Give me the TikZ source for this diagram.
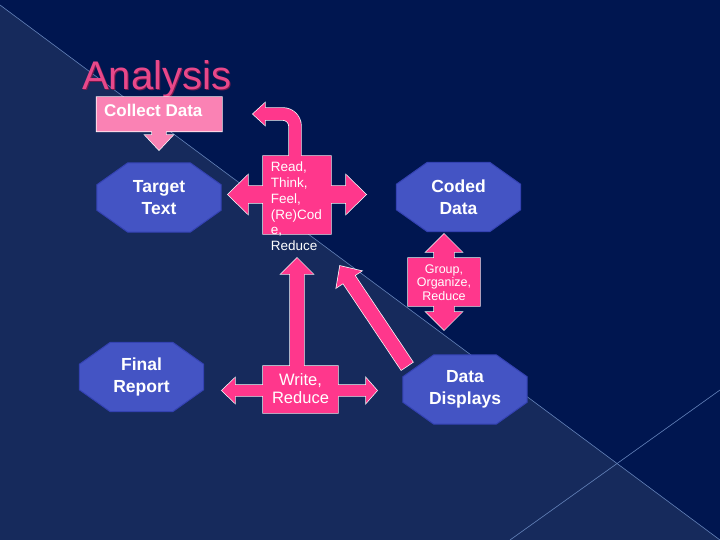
\documentclass[tikz,border=0pt]{standalone}
\usepackage{fontspec}
\setmainfont{Liberation Sans}

\definecolor{bgdark}{RGB}{0,22,80}
\definecolor{bglight}{RGB}{22,42,92}
\definecolor{rulecol}{RGB}{100,130,185}
\definecolor{hotpink}{RGB}{255,55,140}
\definecolor{softpink}{RGB}{250,130,180}
\definecolor{titlepink}{RGB}{232,72,138}
\definecolor{titleshade}{RGB}{120,25,75}
\definecolor{octblue}{RGB}{68,84,196}
\definecolor{octedge}{RGB}{52,66,178}

\pgfdeclarelayer{bg}
\pgfdeclarelayer{shapes}
\pgfsetlayers{bg,shapes,main}

\begin{document}
\begin{tikzpicture}[
    x=1pt, y=-1pt,
    octa/.style={rectangle, minimum width=124pt, minimum height=69pt, inner sep=0pt, text=white, align=center, font=\fontsize{17.5}{22}\selectfont\bfseries},
    octfill/.style={fill=octblue, draw=octedge, line width=1pt},
    callout/.style={fill=hotpink, preaction={draw=white, line width=1.4pt}},
    softcallout/.style={fill=softpink, preaction={draw=white, line width=1.4pt}},
    boxtext/.style={inner sep=0pt, text=white}
]
\useasboundingbox (0,0) rectangle (720,540);

% background
\begin{pgfonlayer}{bg}
\fill[bgdark] (0,0) rectangle (720,540);
\fill[bglight] (0,5) -- (720,540) -- (0,540) -- cycle;
\draw[rulecol, line width=0.6pt] (0,5) -- (720,540);
\draw[rulecol, line width=0.6pt] (720,390) -- (510,540);
\end{pgfonlayer}

% title
\node[anchor=base west, inner sep=0pt, text=titleshade, font=\fontsize{40}{48}\selectfont] (titleshadow) at (83,90.5) {Analysis};
\node[anchor=base west, inner sep=0pt, text=titlepink, font=\fontsize{40}{48}\selectfont] (title) at (82,89.5) {Analysis};

% collect data callout
\path[softcallout] (96.5,97) rectangle (222,131.5)
    (152,131.5) -- (152,135) -- (145,135) -- (159,150) -- (173,135) -- (166,135) -- (166,131.5) -- cycle;
\node[boxtext, anchor=base west, font=\fontsize{17}{20}\selectfont\bfseries] (collect) at (104,116.7) {Collect Data};

% read callout
\path[callout] (263,156) rectangle (331,234)
    (263,186) -- (248,186) -- (248,175) -- (228,194.5) -- (248,214) -- (248,203) -- (263,203) -- cycle
    (331,186) -- (346,186) -- (346,175) -- (366,194.5) -- (346,214) -- (346,203) -- (331,203) -- cycle
    (289,156) -- (289,126) .. controls (289,122.7) and (286.3,120) .. (283,120) -- (265,120) -- (265,125) -- (253,114)
    -- (265,103) -- (265,108) -- (283,108) .. controls (292.9,108) and (301,116.1) .. (301,126) -- (301,156) -- cycle;
\node[boxtext, anchor=north west, align=left, font=\fontsize{13.5}{15.7}\selectfont] (read) at (270.7,162) {Read,\\Think,\\Feel,\\(Re)Cod\\e,\\Reduce};

% group callout
\path[callout] (408,258) rectangle (480,306)
    (434,258) -- (434,252) -- (426,252) -- (444,234) -- (462,252) -- (454,252) -- (454,258) -- cycle
    (434,306) -- (434,312) -- (426,312) -- (444,330) -- (462,312) -- (454,312) -- (454,306) -- cycle;
\node[boxtext, anchor=north, align=center, font=\fontsize{12.5}{13.5}\selectfont] (group) at (444,264.5) {Group,\\Organize,\\Reduce};

% write callout
\path[callout] (263,366) rectangle (338,413)
    (263,385) -- (235,385) -- (235,378) -- (222,390.5) -- (235,403) -- (235,396) -- (263,396) -- cycle
    (338,385) -- (366,385) -- (366,378) -- (377,390.5) -- (366,403) -- (366,396) -- (338,396) -- cycle
    (290,366) -- (290,274) -- (281,274) -- (297,258) -- (313,274) -- (304,274) -- (304,366) -- cycle;
\node[boxtext, anchor=north, align=center, font=\fontsize{16.5}{18.3}\selectfont] (write) at (300.5,373.5) {Write,\\Reduce};

% arrow from data displays
\path[callout] (412.8,362.1) -- (354.7,275.4) -- (361.4,271.0) -- (340,266) -- (336.4,287.6) -- (343.1,283.2) -- (401.2,369.9) -- cycle;

% octagons
\node[octa] (target) at (159,197.5) {Target\\Text};
\node[octa] (coded) at (458.5,197) {Coded\\Data};
\node[octa] (report) at (141.5,377) {Final\\Report};
\node[octa] (displays) at (465,389.5) {Data\\Displays};

\begin{pgfonlayer}{shapes}
\foreach \o in {target,coded,report,displays}
  \filldraw[octfill] ([xshift=31pt]\o.north west) -- ([xshift=-31pt]\o.north east) -- ([yshift=-22pt]\o.north east)
    -- ([yshift=22pt]\o.south east) -- ([xshift=-31pt]\o.south east) -- ([xshift=31pt]\o.south west)
    -- ([yshift=22pt]\o.south west) -- ([yshift=-22pt]\o.north west) -- cycle;
\end{pgfonlayer}
\end{tikzpicture}
\end{document}
